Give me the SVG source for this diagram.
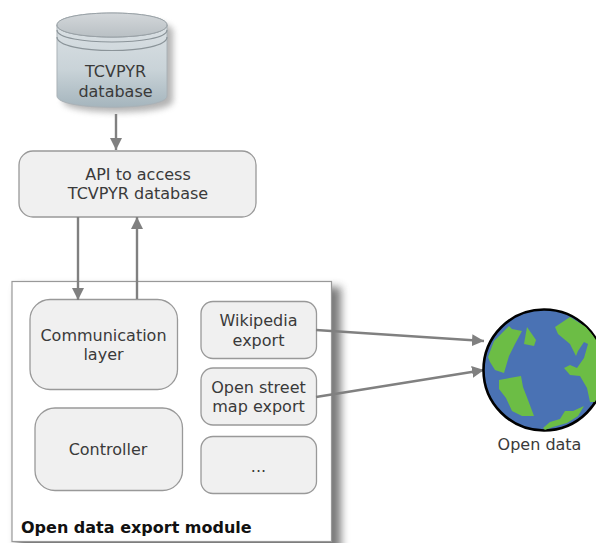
<svg xmlns="http://www.w3.org/2000/svg" width="596" height="543" viewBox="0 0 596 543">
<defs>
<style>
text{font-family:"DejaVu Sans","Liberation Sans",sans-serif;font-size:16px;fill:#3a3a3a;text-anchor:middle}
.box{fill:#f0f0f0;stroke:#999;stroke-width:1.3}
.conn{fill:none;stroke:#808080;stroke-width:2.4}
.land{fill:#6cbd45}
</style>
<marker id="arrow" markerUnits="userSpaceOnUse" markerWidth="14" markerHeight="12" refX="12" refY="6" orient="auto"><path d="M0,0L12,6L0,12Z" fill="#808080"/></marker>
<linearGradient id="cyl" x1="0" y1="0" x2="0" y2="1"><stop offset="0" stop-color="#dfe4e7"/><stop offset="0.6" stop-color="#c9d3d8"/><stop offset="1" stop-color="#a5b5bd"/></linearGradient>
<linearGradient id="cyltop" x1="0" y1="0" x2="0" y2="1"><stop offset="0" stop-color="#d3d7da"/><stop offset="1" stop-color="#b9c0c4"/></linearGradient>
<filter id="blur" x="-20%" y="-20%" width="140%" height="140%"><feGaussianBlur stdDeviation="3"/></filter>
<filter id="blur2" x="-20%" y="-20%" width="140%" height="140%"><feGaussianBlur stdDeviation="4"/></filter>
<clipPath id="globeclip"><circle cx="544" cy="370" r="60"/></clipPath>
</defs>
<rect width="596" height="543" fill="#fff"/>
<g id="database">
<path d="M60,28C60,12 170,12 170,28V98C170,113 60,113 60,98Z" fill="#777" opacity="0.55" filter="url(#blur)" transform="translate(3,3)"/>
<path d="M57,25C57,9 167,9 167,25V96C167,111 57,111 57,96Z" fill="url(#cyl)" stroke="#aab2b7" stroke-width="1"/>
<path d="M57,25C57,41 167,41 167,25" fill="url(#cyltop)" stroke="#8b9499" stroke-width="1"/>
<path d="M57,25C57,9 167,9 167,25C167,41 57,41 57,25Z" fill="url(#cyltop)" stroke="#9aa2a7" stroke-width="1"/>
<path d="M57,30C57,46 167,46 167,30M57,37C57,55 167,55 167,37" fill="none" stroke="#8b9499" stroke-width="1.2"/>
<text x="115.500" y="77">TCVPYR</text>
<text x="115.500" y="97">database</text>
</g>
<g id="api">
<rect class="box" x="19" y="151" width="237" height="66" rx="14"/>
<text x="138" y="180">API to access</text>
<text x="138" y="199">TCVPYR database</text>
</g>
<g id="module">
<rect x="17" y="287" width="324" height="270" fill="#444" opacity="0.7" filter="url(#blur2)"/>
<rect x="12" y="281.500" width="319.500" height="260" fill="#fff" stroke="#999" stroke-width="1.2"/>
<text x="21" y="533" style="font-weight:bold;text-anchor:start;fill:#111">Open data export module</text>
</g>
<g id="communication">
<rect class="box" x="30" y="299.500" width="147.500" height="90" rx="20"/>
<text x="103.500" y="341">Communication</text>
<text x="103.500" y="360">layer</text>
</g>
<g id="controller">
<rect class="box" x="35" y="408" width="147.500" height="82.500" rx="20"/>
<text x="108" y="455">Controller</text>
</g>
<g id="wikipedia">
<rect class="box" x="201" y="301.500" width="115.500" height="57" rx="12"/>
<text x="258.500" y="326">Wikipedia</text>
<text x="258.500" y="346">export</text>
</g>
<g id="osm">
<rect class="box" x="201" y="368" width="115.500" height="57" rx="12"/>
<text x="258.500" y="393">Open street</text>
<text x="258.500" y="412">map export</text>
</g>
<g id="more">
<rect class="box" x="201" y="436.500" width="115.500" height="57" rx="12"/>
<text x="258.500" y="472">...</text>
</g>
<g id="connectors">
<path class="conn" d="M116,114V150" marker-end="url(#arrow)"/>
<path class="conn" d="M78,217V300" marker-end="url(#arrow)"/>
<path class="conn" d="M137,299V217" marker-end="url(#arrow)"/>
<path class="conn" d="M316,330L484,341" marker-end="url(#arrow)"/>
<path class="conn" d="M316,397L484,370" marker-end="url(#arrow)"/>
</g>
<g id="globe">
<circle cx="544" cy="370" r="60.500" fill="#4a72b4" stroke="#000" stroke-width="2.600"/>
<g clip-path="url(#globeclip)">
<path class="land" d="M488,357L494,341L509,326L512,329L522,331L515,344L509,356L504,373L495,370L490,362Z"/>
<path class="land" d="M524,344L527,327L536,340L534,346Z"/>
<path class="land" d="M499,380L521,376L523,387L528,400L534,416L522,416L512,411L506,398L499,389Z"/>
<path class="land" d="M555,327L570,317L586,327L597,340L597,402L590,402L587,388L580,376L570,375L564,368L570,365L577,368L584,358L588,344L584,342L578,351L576,356L570,344L558,334Z"/>
<path class="land" d="M543,428L550,422L560,419L565,411L573,411L584,406L578,416L567,423L553,427L545,430Z"/>
</g>
</g>
<g id="opendata-label">
<text x="539.500" y="450">Open data</text>
</g>
</svg>
